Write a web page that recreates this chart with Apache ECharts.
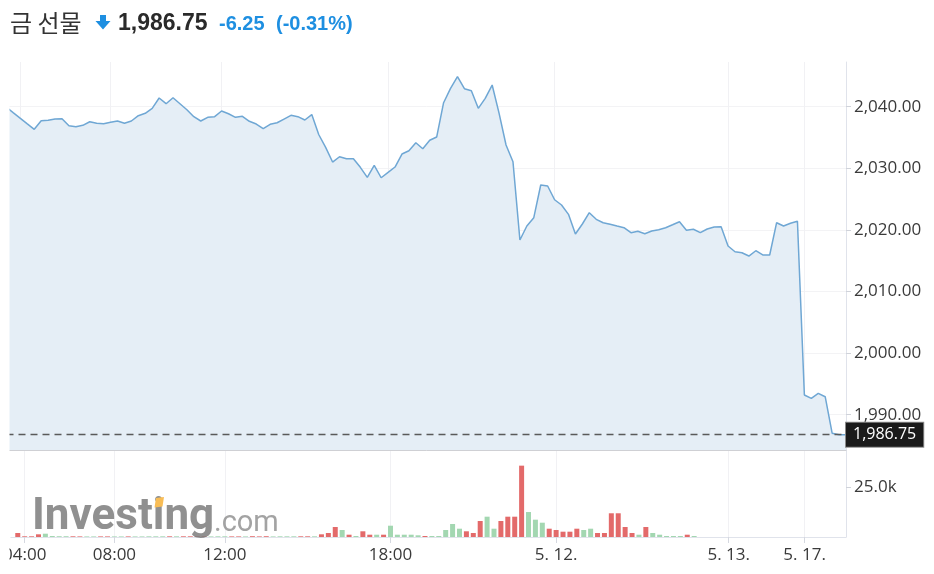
<!DOCTYPE html>
<html><head><meta charset="utf-8">
<script src="https://cdn.jsdelivr.net/npm/echarts@6/dist/echarts.min.js"></script>
<style>html,body{margin:0;padding:0;background:#fff}#c{width:934px;height:574px}</style>
</head><body><div id="c"></div>
<script>
// ---- data ----
const price = [
  2039.92, 2039.01, 2038.12, 2037.22, 2036.33, 2037.73, 2037.79, 2038.00, 2038.05, 2036.92,
  2036.75, 2036.98, 2037.56, 2037.31, 2037.24, 2037.47, 2037.68, 2037.31, 2037.68, 2038.54,
  2038.93, 2039.74, 2041.41, 2040.49, 2041.46, 2040.49, 2039.51, 2038.38, 2037.68, 2038.28,
  2038.38, 2039.30, 2038.86, 2038.28, 2038.44, 2037.63, 2037.19, 2036.43, 2037.14, 2037.40,
  2038.00, 2038.60, 2038.38, 2037.84, 2038.73, 2035.49, 2033.41, 2031.02, 2031.88, 2031.56,
  2031.56, 2030.16, 2028.54, 2030.49, 2028.47, 2029.35, 2030.21, 2032.32, 2032.86, 2034.16,
  2033.18, 2034.55, 2035.08, 2040.65, 2042.99, 2044.87, 2042.92, 2042.60, 2039.74, 2041.36,
  2043.52, 2038.93, 2033.78, 2031.07, 2018.36, 2020.63, 2021.98, 2027.29, 2027.13, 2024.90,
  2024.04, 2022.53, 2019.33, 2020.96, 2022.79, 2021.72, 2021.17, 2020.91, 2020.63, 2020.36,
  2019.55, 2019.77, 2019.38, 2019.82, 2020.03, 2020.36, 2020.84, 2021.33, 2019.94, 2020.10,
  2019.55, 2020.15, 2020.47, 2020.52, 2017.39, 2016.46, 2016.30, 2015.76, 2016.62, 2015.93,
  2015.93, 2021.17, 2020.63, 2021.07, 2021.40, 1993.20, 1992.66, 1993.47, 1992.92, 1987.00,
  1986.75, 1986.75
];
const volume = [
  null, 2020, 350, 350, 1360, 1670, 500, 400, 400, 350,
  300, 300, 300, 300, 300, 300, 300, 300, 300, 300,
  350, 350, 350, 350, 350, 350, 350, 400, 400, 300,
  350, 350, 300, 300, 300, 400, 300, 400, 300, 350,
  350, 350, 350, 350, 350, 1360, 2020, 5050, 3535, 1160,
  505, 2880, 1160, 1160, 1160, 5700, 1160, 1160, 1160, 860,
  505, 505, 505, 3535, 6565, 4190, 2880, 2020, 8080, 10250,
  4190, 8080, 10250, 10250, 36000, 12600, 8740, 7220, 4190, 3535,
  2680, 2680, 4190, 3535, 4190, 2020, 2020, 11970, 11970, 5050,
  2020, 1160, 5050, 2020, 1160, 505, 505, 505, 1160, 505,
  null, null, null, null, null, null, null, null, null, null,
  null, null, null, null, null, null, null, null, null, null,
  null, null
];
const tickIndex = [2, 15, 31, 55, 79, 104, 115];
const tickLabels = ['04:00', '08:00', '12:00', '18:00', '5. 12.', '5. 13.', '5. 17.'];
const priceTicks = [1990, 2000, 2010, 2020, 2030, 2040];
const volumeTicks = [25000];
const lastPrice = 1986.75;
const titleName = '금 선물';
const titlePrice = '1,986.75';
const titleChange = '-6.25';
const titlePct = '(-0.31%)';

// ---- build ----
const categories = price.map((_, i) => 'p' + i);
const showAt = (idx) => tickIndex.indexOf(idx) >= 0;
const labelAt = (v, idx) => { const k = tickIndex.indexOf(idx); return k >= 0 ? tickLabels[k] : ''; };
const fmtPrice = v => v.toLocaleString('en-US', {minimumFractionDigits: 2, maximumFractionDigits: 2});
const UP = '#a3d7b1', DOWN = '#e36a6a';
const volData = volume.map((v, i) => ({
  value: v,
  itemStyle: {color: (i > 0 && price[i] < price[i - 1]) ? DOWN : UP}
}));

const FONT = '"Open Sans", "Noto Sans", sans-serif';
const chart = echarts.init(document.getElementById('c'), null, {renderer: 'canvas'});
chart.setOption({
  animation: false,
  grid: [
    {left: 6.5, right: 88, top: 62, height: 388},
    {left: 6.5, right: 88, top: 450, height: 87}
  ],
  xAxis: [
    {
      type: 'category', gridIndex: 0, data: categories, boundaryGap: false,
      axisLine: {show: true, lineStyle: {color: '#cfd0d4', width: 1}},
      axisTick: {show: false}, axisLabel: {show: false},
      splitLine: {show: true, interval: showAt, lineStyle: {color: '#f1f1f4', width: 1}}
    },
    {
      type: 'category', gridIndex: 1, data: categories, boundaryGap: false,
      axisLine: {show: true, lineStyle: {color: '#e0e3eb', width: 1}},
      axisTick: {show: true, interval: showAt, length: 6, lineStyle: {color: '#d5d8e0'}},
      axisLabel: {show: true, interval: showAt, formatter: labelAt, margin: 10,
        color: '#3a3a3a', fontSize: 17, fontFamily: FONT},
      splitLine: {show: true, interval: showAt, lineStyle: {color: '#f1f1f4', width: 1}}
    }
  ],
  yAxis: [
    {
      type: 'value', gridIndex: 0, position: 'right', min: 1984.27, max: 2047.26,
      axisLine: {show: true, lineStyle: {color: '#e0e3eb'}},
      axisTick: {show: true, customValues: priceTicks, length: 5, lineStyle: {color: '#d0d3da'}},
      axisLabel: {show: true, customValues: priceTicks, formatter: fmtPrice, margin: 8,
        color: '#3a3a3a', fontSize: 17, fontFamily: FONT},
      splitLine: {show: true, lineStyle: {color: '#f3f3f5', width: 1}}
    },
    {
      type: 'value', gridIndex: 1, position: 'right', min: 0, max: 43900,
      axisLine: {show: true, lineStyle: {color: '#e0e3eb'}},
      axisTick: {show: true, customValues: volumeTicks, length: 5, lineStyle: {color: '#d0d3da'}},
      axisLabel: {show: true, customValues: volumeTicks, formatter: v => (v / 1000).toFixed(1) + 'k',
        margin: 8, color: '#3a3a3a', fontSize: 17, fontFamily: FONT},
      splitLine: {show: false}
    }
  ],
  series: [
    {
      type: 'line', xAxisIndex: 0, yAxisIndex: 0, data: price,
      showSymbol: false, symbol: 'none', silent: true,
      lineStyle: {color: '#6fa7d4', width: 1.5},
      areaStyle: {color: '#e5eef6', opacity: 1},
      markLine: {
        silent: true, symbol: ['none', 'none'],
        data: [{yAxis: lastPrice}],
        lineStyle: {type: [7, 5], color: '#5a5a5a', width: 1.4},
        label: {
          show: true, position: 'end', distance: 0,
          formatter: () => fmtPrice(lastPrice),
          color: '#ffffff', backgroundColor: '#1a1a1a',
          borderColor: '#8a8a8a', borderWidth: 1,
          padding: [4, 7, 4, 7], fontSize: 16, fontFamily: FONT
        }
      }
    },
    {
      type: 'bar', xAxisIndex: 1, yAxisIndex: 1, data: volData,
      barWidth: 5, silent: true
    }
  ],
  graphic: [
    {type: 'rect', shape: {x: 0, y: 56, width: 9.5, height: 518}, style: {fill: '#ffffff'}, z: 100, silent: true},
    {type: 'text', z: 110, silent: true, style: {text: 'Investing', x: 32, y: 518,
      font: 'bold 44px Roboto', fill: 'rgba(125,125,125,0.85)', textVerticalAlign: 'middle'}},
    {type: 'polygon', z: 111, silent: true, shape: {points: [[156, 498], [164, 497], [162.5, 506.5], [154.5, 507.5]]},
      style: {fill: '#f9bd55'}},
    {type: 'text', z: 110, silent: true, style: {text: '.com', x: 214, y: 524,
      font: '29px Roboto', fill: 'rgba(140,140,140,0.8)', textVerticalAlign: 'middle'}},
    {type: 'text', z: 110, silent: true, style: {text: titleName, x: 10, y: 23,
      font: '24px "Noto Sans CJK KR"', fill: '#333333', textVerticalAlign: 'middle'}},
    {type: 'polygon', z: 110, silent: true, shape: {points: [[100, 15], [106, 15], [106, 21], [110.5, 21], [103, 29.5], [95.5, 21], [100, 21]]},
      style: {fill: '#1e8fe1'}},
    {type: 'text', z: 110, silent: true, style: {text: titlePrice, x: 118, y: 24,
      font: 'bold 23px "Liberation Sans"', fill: '#2a2a2a', textVerticalAlign: 'middle'}},
    {type: 'text', z: 110, silent: true, style: {text: titleChange, x: 219, y: 24,
      font: 'bold 20px "Liberation Sans"', fill: '#1e8fe1', textVerticalAlign: 'middle'}},
    {type: 'text', z: 110, silent: true, style: {text: titlePct, x: 276, y: 24,
      font: 'bold 20px "Liberation Sans"', fill: '#1e8fe1', textVerticalAlign: 'middle'}}
  ]
});
</script>
</body></html>
